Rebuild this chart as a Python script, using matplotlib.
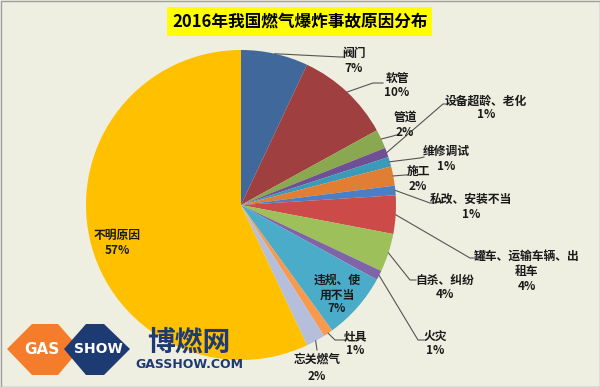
import numpy as np
import matplotlib.pyplot as plt
from matplotlib.patches import Polygon, Rectangle

plt.rcParams['font.family'] = ['Noto Sans CJK SC', 'DejaVu Sans']

TITLE = "2016年我国燃气爆炸事故原因分布"
causes = ["阀门", "软管", "管道", "设备超龄、老化", "维修调试", "施工", "私改、安装不当",
          "罐车、运输车辆、出\n租车", "自杀、纠纷", "火灾", "违规、使\n用不当", "灶具",
          "忘关燃气", "不明原因"]
shares = [7, 10, 2, 1, 1, 2, 1, 4, 4, 1, 7, 1, 2, 57]
colors = ["#41689b", "#a03f3f", "#8aa84f", "#6f4f95", "#3b9ab8", "#e07f34", "#4a7ec5",
          "#cc4b48", "#9dc05a", "#8064a8", "#4aacc8", "#f79a4e", "#b5bfdc", "#ffc000"]

W, H = 600, 387
BG = "#eeefe0"

# label layout in pixel coords (x, y from top): name centre x, first-line y, percent y
name_x = [354, 397, 405, 486, 446, 418, 471, 527, 445, 435, 337, 355, 317, 117]
name_y = [53, 78, 117, 101, 151, 171, 199, 256, 280, 336, 280, 337, 359, 235]
pct_y = [68, 93, 132, 115, 166, 186, 215, 287, 294, 351, 309, 351, 376, 250]
# leader lines: elbow point then end of the horizontal tail
elbows = [(340, 57), (373, 83), (393, 136), (443, 104), (420, 158), (405, 175), (430, 203),
          (470, 258), (410, 280), (418, 340), None, (335, 340), (317, 350), None]
tails = [(344, 57), (383, 83), (396, 135), (447, 104), (424, 157), (408, 175), (436, 203),
         (474, 258), (416, 280), (424, 340), None, (345, 340), None, None]


def py(y):
    return H - y


fig = plt.figure(figsize=(6, 3.87), dpi=100)
fig.patch.set_facecolor(BG)
ax = fig.add_axes([0, 0, 1, 1])
ax.set_facecolor(BG)

cx, cy, r = 241, py(205), 155
wedges, _ = ax.pie(shares, colors=colors, startangle=90, counterclock=False,
                   center=(cx, cy), radius=r, wedgeprops=dict(linewidth=0))
ax.set_xlim(0, W)
ax.set_ylim(0, H)
ax.set_aspect("equal")
ax.axis("off")

style = dict(ha="center", va="center", fontsize=8.5, fontweight="bold", color="#1a1a1a")
for w, name, val, nx, ny, pyy, el, tl in zip(wedges, causes, shares, name_x, name_y, pct_y,
                                             elbows, tails):
    for i, line in enumerate(name.split("\n")):
        ax.text(nx, py(ny + 15 * i), line, **style)
    ax.text(nx, py(pyy), f"{val}%", **style)
    if el is None:
        continue
    mid = np.deg2rad((w.theta1 + w.theta2) / 2)
    sx, sy = cx + r * np.cos(mid), cy + r * np.sin(mid)
    xs = [sx, el[0]]
    ys = [sy, py(el[1])]
    if tl is not None:
        xs.append(tl[0])
        ys.append(py(tl[1]))
    ax.plot(xs, ys, color="#555555", lw=0.8)

# title box
ax.add_patch(Rectangle((167, py(36)), 265, 29, facecolor="#ffff00", edgecolor="none"))
ax.text(300, py(21.5), TITLE, ha="center", va="center", fontsize=12, fontweight="bold")

# watermark logo
ax.add_patch(Polygon([(7, py(349)), (32, py(324)), (58, py(324)), (80, py(349)),
                      (58, py(375)), (32, py(375))], facecolor="#f47c2a", edgecolor="none"))
ax.add_patch(Polygon([(64, py(349)), (86, py(324)), (104, py(324)), (130, py(349)),
                      (104, py(375)), (86, py(375))], facecolor="#1d3a73", edgecolor="none"))
ax.text(42, py(349), "GAS", ha="center", va="center", fontsize=11, fontweight="bold",
        color="white", family="DejaVu Sans")
ax.text(98, py(349), "SHOW", ha="center", va="center", fontsize=10, fontweight="bold",
        color="white", family="DejaVu Sans")
ax.text(189, py(343), "博燃网", ha="center", va="center", fontsize=20, fontweight="bold",
        color="#1d3a73")
ax.text(189, py(364), "GASSHOW.COM", ha="center", va="center", fontsize=9, fontweight="bold",
        color="#1d3a73", family="DejaVu Sans")

ax.add_patch(Rectangle((0.5, 0.5), W - 1, H - 1, facecolor="none", edgecolor="#a0a0a0", lw=1))

fig.savefig("out.png", dpi=100, facecolor=BG)
